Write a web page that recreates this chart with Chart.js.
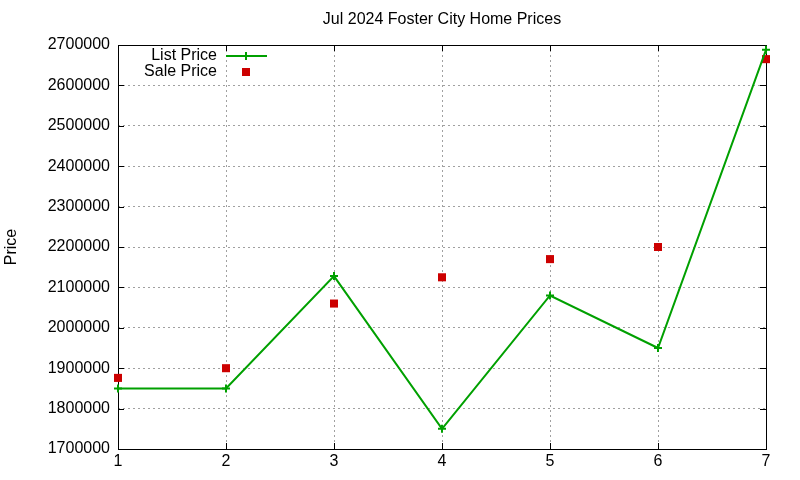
<!DOCTYPE html>
<html><head><meta charset="utf-8">
<script src="https://cdn.jsdelivr.net/npm/chart.js@4.4.1/dist/chart.umd.min.js"></script>
<style>html,body{margin:0;padding:0;background:#fff}</style>
</head><body>
<canvas id="chart" width="800" height="480"></canvas>
<script>
// data
var months = [1, 2, 3, 4, 5, 6, 7];
var listPrice = [1850000, 1850000, 2128000, 1750000, 2080000, 1950000, 2688000];
var salePrice = [1876000, 1900000, 2060000, 2125000, 2170000, 2200000, 2665000];
var titleText = "Jul 2024 Foster City Home Prices";
var yLabel = "Price";
var seriesNames = ["List Price", "Sale Price"];

var FONT = "Liberation Sans, Arial, sans-serif";

function pts(vals) {
  var out = [];
  for (var i = 0; i < months.length; i++) out.push({x: months[i], y: vals[i]});
  return out;
}

// gnuplot look: frame, inward ticks, title, legend
var gnuplotLook = {
  id: "gnuplotLook",
  beforeDatasetsDraw: function(chart) {
    var c = chart.ctx, a = chart.chartArea;
    var xs = chart.scales.x, ys = chart.scales.y;
    c.save();
    c.strokeStyle = "#000";
    c.lineWidth = 1;
    c.beginPath();
    ys.ticks.forEach(function(t) {
      var y = Math.round(ys.getPixelForValue(t.value)) + 0.5;
      c.moveTo(a.left, y); c.lineTo(a.left + 6, y);
      c.moveTo(a.right, y); c.lineTo(a.right - 6, y);
    });
    xs.ticks.forEach(function(t) {
      var x = Math.round(xs.getPixelForValue(t.value)) + 0.5;
      c.moveTo(x, a.bottom); c.lineTo(x, a.bottom - 6);
      c.moveTo(x, a.top); c.lineTo(x, a.top + 6);
    });
    c.stroke();
    c.strokeRect(Math.round(a.left) + 0.5, Math.round(a.top) + 0.5,
      Math.round(a.right - a.left), Math.round(a.bottom - a.top));

    c.fillStyle = "#000";
    c.font = "16px " + FONT;
    c.textAlign = "center";
    c.textBaseline = "middle";
    c.fillText(titleText, (a.left + a.right) / 2, 20);

    c.save();
    c.translate(12, (a.top + a.bottom) / 2);
    c.rotate(-Math.PI / 2);
    c.fillText(yLabel, 0, 0);
    c.restore();

    // legend
    c.textAlign = "right";
    c.fillText(seriesNames[0], 217, 56);
    c.fillText(seriesNames[1], 217, 72);
    c.strokeStyle = "#00a000";
    c.lineWidth = 2;
    c.beginPath();
    c.moveTo(226, 56); c.lineTo(267, 56);
    c.moveTo(246, 52); c.lineTo(246, 60);
    c.stroke();
    c.fillStyle = "#cc0000";
    c.fillRect(242, 68, 8, 8);
    c.restore();
  }
};

new Chart(document.getElementById("chart").getContext("2d"), {
  type: "line",
  data: {
    datasets: [
      {
        label: seriesNames[0],
        data: pts(listPrice),
        borderColor: "#00a000",
        backgroundColor: "#00a000",
        borderWidth: 2,
        pointStyle: "cross",
        pointRadius: 4,
        pointBorderWidth: 2,
        tension: 0,
        clip: false
      },
      {
        label: seriesNames[1],
        data: pts(salePrice),
        showLine: false,
        borderColor: "#cc0000",
        backgroundColor: "#cc0000",
        pointStyle: "rect",
        pointRadius: 5.7,
        pointBorderWidth: 0,
        clip: false
      }
    ]
  },
  options: {
    responsive: false,
    devicePixelRatio: 1,
    animation: false,
    layout: {padding: {top: 45, right: 34, left: 0, bottom: 0}},
    plugins: {legend: {display: false}, title: {display: false}, tooltip: {enabled: false}},
    scales: {
      x: {
        type: "linear",
        min: 1, max: 7,
        afterFit: function(s) { s.height = 31; },
        ticks: {stepSize: 1, color: "#000", font: {family: FONT, size: 16}, padding: 3, maxRotation: 0},
        grid: {color: "#a0a0a0", drawTicks: false},
        border: {display: false, dash: [2, 3]}
      },
      y: {
        min: 1700000, max: 2700000,
        afterFit: function(s) { s.width = 118; },
        ticks: {stepSize: 100000, color: "#000", font: {family: FONT, size: 16}, padding: 8,
          callback: function(v) { return String(v); }},
        grid: {color: "#a0a0a0", drawTicks: false},
        border: {display: false, dash: [2, 3]}
      }
    }
  },
  plugins: [gnuplotLook]
});
</script>
</body></html>
